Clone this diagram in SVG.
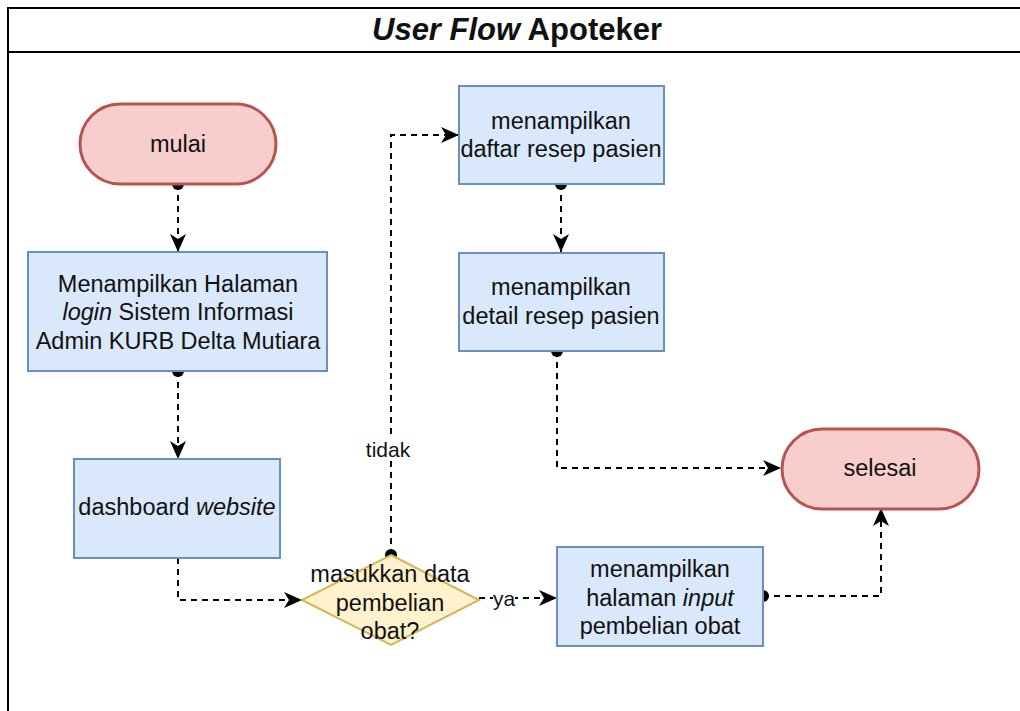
<svg xmlns="http://www.w3.org/2000/svg" width="1020" height="711" viewBox="0 0 1020 711">
  <style>
    .frame { fill: none; stroke: #000; stroke-width: 2; }
    .proc { fill: #dae8fc; stroke: #6c8ebf; stroke-width: 2; }
    .term { fill: #f8cecc; stroke: #b85450; stroke-width: 3; }
    .dec { fill: #fff2cc; stroke: #d6b656; stroke-width: 2; }
    .edge { fill: none; stroke: #000; stroke-width: 2; stroke-dasharray: 6 5; }
    text { font-family: "Liberation Sans", Arial, sans-serif; font-size: 23.5px; fill: #111; text-anchor: middle; }
    .title { font-size: 31px; font-weight: bold; }
    .lbl { font-size: 21px; }
  </style>
  <defs>
    <marker id="arrow" markerUnits="userSpaceOnUse" viewBox="0 0 18 16" refX="18" refY="8" markerWidth="18" markerHeight="16" orient="auto">
      <path d="M0,0 L18,8 L0,16 L5,8 Z" fill="#000"/>
    </marker>
    <marker id="dot" markerUnits="userSpaceOnUse" viewBox="0 0 14 14" refX="7" refY="7" markerWidth="14" markerHeight="14" orient="auto">
      <circle cx="7" cy="7" r="6" fill="#000"/>
    </marker>
  </defs>

  <rect width="1020" height="711" fill="#fff"/>

  <!-- swimlane frame with header -->
  <g id="frame">
    <path class="frame" d="M8,720 V8 H1030"/>
    <line class="frame" x1="8" y1="52" x2="1030" y2="52"/>
    <text class="title" x="517" y="40"><tspan font-style="italic">User Flow</tspan> Apoteker</text>
  </g>

  <!-- connectors -->
  <g id="connectors">
    <path class="edge" d="M178,184 V252" marker-start="url(#dot)" marker-end="url(#arrow)"/>
    <path class="edge" d="M178,371 V459" marker-start="url(#dot)" marker-end="url(#arrow)"/>
    <path class="edge" d="M178,558 V600 H302" marker-end="url(#arrow)"/>
    <path class="edge" d="M391,555 V135 H459" marker-start="url(#dot)" marker-end="url(#arrow)"/>
    <path class="edge" d="M479,598 H557" marker-end="url(#arrow)"/>
    <path class="edge" d="M561,184 V252" marker-start="url(#dot)" marker-end="url(#arrow)"/>
    <path class="edge" d="M557,351 V468 H781" marker-start="url(#dot)" marker-end="url(#arrow)"/>
    <path class="edge" d="M763,596 H881 V508" marker-start="url(#dot)" marker-end="url(#arrow)"/>
    <rect x="363" y="436" width="50" height="25" fill="#fff"/>
    <text class="lbl" x="388" y="457">tidak</text>
    <rect x="493" y="588" width="22" height="22" fill="#fff"/>
    <text class="lbl" x="504" y="606">ya</text>
  </g>

  <!-- nodes -->
  <g id="mulai">
    <rect class="term" x="80" y="104" width="196" height="80" rx="40" ry="40"/>
    <text x="178" y="152">mulai</text>
  </g>

  <g id="halaman-login">
    <rect class="proc" x="28" y="252" width="299" height="119"/>
    <text x="178" y="292">Menampilkan Halaman</text>
    <text x="178" y="320"><tspan font-style="italic">login</tspan> Sistem Informasi</text>
    <text x="178" y="349">Admin KURB Delta Mutiara</text>
  </g>

  <g id="dashboard">
    <rect class="proc" x="74" y="459" width="206" height="99"/>
    <text x="177" y="515">dashboard <tspan font-style="italic">website</tspan></text>
  </g>

  <g id="keputusan">
    <path class="dec" d="M391,555 L479,600 L391,645 L302,600 Z"/>
    <text x="390" y="582">masukkan data</text>
    <text x="390" y="611">pembelian</text>
    <text x="390" y="639">obat?</text>
  </g>

  <g id="input-pembelian">
    <rect class="proc" x="557" y="547" width="206" height="99"/>
    <text x="660" y="577">menampilkan</text>
    <text x="660" y="606">halaman <tspan font-style="italic">input</tspan></text>
    <text x="660" y="634">pembelian obat</text>
  </g>

  <g id="daftar-resep">
    <rect class="proc" x="459" y="86" width="205" height="98"/>
    <text x="561" y="129">menampilkan</text>
    <text x="561" y="157">daftar resep pasien</text>
  </g>

  <g id="detail-resep">
    <rect class="proc" x="459" y="253" width="205" height="98"/>
    <text x="561" y="295">menampilkan</text>
    <text x="561" y="324">detail resep pasien</text>
  </g>

  <g id="selesai">
    <rect class="term" x="782" y="429" width="197" height="80" rx="40" ry="40"/>
    <text x="880" y="476">selesai</text>
  </g>
</svg>
